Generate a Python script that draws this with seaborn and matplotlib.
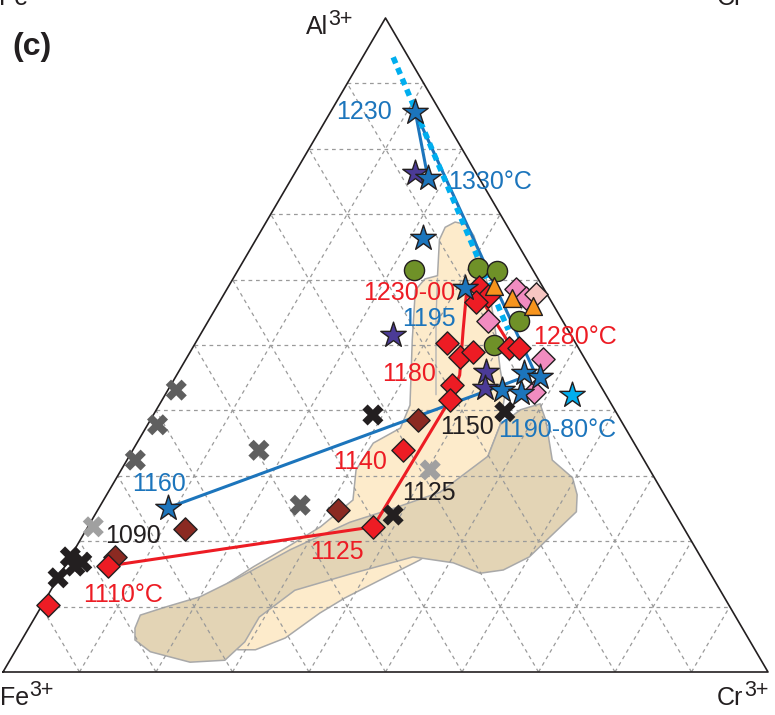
import numpy as np
import pandas as pd
import matplotlib
matplotlib.use("Agg")
import matplotlib.pyplot as plt
from matplotlib.patches import Polygon
import seaborn as sns

# ---------------- data (ternary fractions; Fe = 1 - Al - Cr) ----------------
blue_star_al = [0.856, 0.755, 0.664, 0.587, 0.431, 0.427, 0.457, 0.451, 0.251]
blue_star_cr = [0.111, 0.178, 0.217, 0.310, 0.437, 0.464, 0.452, 0.476, 0.090]
purple_star_al = [0.763, 0.515, 0.459, 0.434]
purple_star_cr = [0.157, 0.252, 0.402, 0.413]
cyan_star_al = [0.424]
cyan_star_cr = [0.532]
olive_al = [0.615, 0.618, 0.613, 0.537, 0.500]
olive_cr = [0.230, 0.312, 0.339, 0.406, 0.392]
orange_al = [0.590, 0.572, 0.560]
orange_cr = [0.347, 0.379, 0.413]
pink_al = [0.586, 0.572, 0.537, 0.479, 0.428]
pink_cr = [0.377, 0.398, 0.366, 0.467, 0.480]
lightpink_al = [0.578]
lightpink_cr = [0.408]
red_al = [0.589, 0.575, 0.566, 0.503, 0.482, 0.489, 0.495, 0.495, 0.439, 0.416,
          0.339, 0.222, 0.162, 0.102]
red_cr = [0.328, 0.347, 0.335, 0.329, 0.357, 0.370, 0.414, 0.427, 0.368, 0.376,
          0.353, 0.373, 0.056, 0.008]
darkred_al = [0.385, 0.248, 0.219, 0.176]
darkred_cr = [0.350, 0.314, 0.129, 0.059]
xdark_al = [0.431, 0.378, 0.324, 0.339, 0.255]
xdark_cr = [0.011, 0.013, 0.011, 0.165, 0.261]
xlight_al = [0.222, 0.309]
xlight_cr = [0.007, 0.404]
xblack_al = [0.393, 0.240, 0.398, 0.176, 0.168, 0.162, 0.144]
xblack_cr = [0.287, 0.390, 0.457, 0.000, 0.019, 0.013, 0.000]

# trends
red_path_al = [0.162, 0.222, 0.416, 0.454, 0.523, 0.575, 0.572, 0.495]
red_path_cr = [0.056, 0.373, 0.376, 0.370, 0.340, 0.318, 0.338, 0.418]
blue_path_al = [0.755, 0.856, 0.457, 0.251]
blue_path_cr = [0.178, 0.111, 0.467, 0.090]
cyan_path_al = [0.940, 0.523]
cyan_path_cr = [0.040, 0.399]

# fields
light_al = [0.688, 0.684, 0.667, 0.627, 0.577, 0.515, 0.462, 0.424, 0.378, 0.330,
            0.278, 0.202, 0.171, 0.141, 0.113, 0.090, 0.052, 0.034, 0.034, 0.072,
            0.113, 0.136, 0.161, 0.191, 0.222, 0.263, 0.309, 0.350, 0.373, 0.408,
            0.508, 0.584, 0.601, 0.606, 0.661, 0.680]
light_cr = [0.247, 0.264, 0.282, 0.313, 0.348, 0.387, 0.419, 0.444, 0.461, 0.469,
            0.472, 0.483, 0.459, 0.423, 0.390, 0.369, 0.343, 0.313, 0.290, 0.254,
            0.230, 0.226, 0.247, 0.276, 0.304, 0.326, 0.307, 0.309, 0.333, 0.328,
            0.281, 0.247, 0.251, 0.265, 0.240, 0.238]
light_inner_al = [0.602, 0.540, 0.424]
light_inner_cr = [0.267, 0.296, 0.354]
dark_al = [0.067, 0.087, 0.099, 0.115, 0.145, 0.187, 0.229, 0.251, 0.275, 0.330,
           0.378, 0.401, 0.410, 0.385, 0.324, 0.297, 0.271, 0.245, 0.202, 0.176,
           0.156, 0.151, 0.167, 0.176, 0.151, 0.125, 0.084, 0.046, 0.018, 0.015,
           0.031, 0.049]
dark_cr = [0.139, 0.136, 0.162, 0.200, 0.237, 0.282, 0.339, 0.387, 0.434, 0.469,
           0.461, 0.476, 0.497, 0.517, 0.556, 0.596, 0.615, 0.627, 0.610, 0.600,
           0.576, 0.548, 0.505, 0.448, 0.382, 0.319, 0.293, 0.293, 0.281, 0.237,
           0.177, 0.148]

labels_text = ["1230", "1330°C", "1230-00", "1195", "1280°C", "1180", "1150",
               "1190-80°C", "1140", "1125", "1125", "1160", "1090", "1110°C"]
labels_color = ["blue", "blue", "red", "blue", "red", "red", "black",
                "blue", "red", "black", "red", "blue", "black", "red"]
vertex_base = ["Al", "Fe", "Cr"]
vertex_sup = ["3+", "3+", "3+"]

# ---------------- style ----------------
sns.set_theme(style="white")
plt.rcParams["font.family"] = ["Liberation Sans", "DejaVu Sans"]

C_BLUE = "#1c75bc"
C_RED = "#ed1c24"
C_BLACK = "#231f20"
C_PURPLE = "#4b3b97"
C_CYAN = "#00aeef"
C_OLIVE = "#6f9128"
C_ORANGE = "#f7941d"
C_PINK = "#f18cc0"
C_LPINK = "#f7c6c2"
C_DRED = "#8b2a22"
C_XDARK = "#5f5f5f"
C_XLIGHT = "#a0a0a0"
TXT = {"blue": C_BLUE, "red": C_RED, "black": C_BLACK}


def tern(al, cr):
    al = np.asarray(al, float)
    cr = np.asarray(cr, float)
    return cr + al / 2.0, al


W, H = 775, 715
fig = plt.figure(figsize=(W / 100, H / 100), dpi=100)
x0, x1, ytop, ybot = 3, 768, 18, 672
ax = fig.add_axes([x0 / W, (H - ybot) / H, (x1 - x0) / W, (ybot - ytop) / H])
ax.set_xlim(0, 1)
ax.set_ylim(0, 1)
ax.axis("off")


def px(x, y):
    return (x - x0) / (x1 - x0), (ybot - y) / (ybot - ytop)


# fields
lx, ly = tern(light_al, light_cr)
ax.add_patch(Polygon(np.c_[lx, ly], closed=True, facecolor="#fdebcb",
                     edgecolor="#a9a9a9", lw=1.1, zorder=1))
ix, iy = tern(light_inner_al, light_inner_cr)
ax.plot(ix, iy, color="#b4b4b4", lw=1.0, zorder=1.1)
dx, dy = tern(dark_al, dark_cr)
ax.add_patch(Polygon(np.c_[dx, dy], closed=True, facecolor="#e3d4b5",
                     edgecolor="#a9a9a9", lw=1.1, zorder=1.2))

# grid
ticks = np.arange(1, 10) / 10.0
for t in ticks:
    for a, c in ((np.array([t, t]), np.array([0, 1 - t])),
                 (np.array([0, 1 - t]), np.array([t, t])),
                 (np.array([0, 1 - t]), np.array([1 - t, 0]))):
        gx, gy = tern(a, c)
        ax.plot(gx, gy, color="#9a9a9a", lw=0.9, ls=(0, (3, 3)), zorder=1.5)

# triangle
tx, ty = tern([0, 0, 1, 0], [0, 1, 0, 0])
ax.plot(tx, ty, color=C_BLACK, lw=1.2, zorder=2, clip_on=False)

# trend lines
cx, cy = tern(cyan_path_al, cyan_path_cr)
ax.plot(cx, cy, color=C_CYAN, lw=4, ls=(0, (1.2, 0.9)), dash_capstyle="butt", zorder=2.2)
bx, by = tern(blue_path_al, blue_path_cr)
ax.plot(bx, by, color=C_BLUE, lw=2.2, zorder=2.1, solid_joinstyle="round")
rx, ry = tern(red_path_al, red_path_cr)
ax.plot(rx, ry, color=C_RED, lw=2.2, zorder=2.1, solid_joinstyle="round")


def scat(al, cr, marker, color, s, edge=True):
    x, y = tern(al, cr)
    df = pd.DataFrame({"x": x, "y": y})
    kw = dict(edgecolor=C_BLACK, linewidth=1.0) if edge else dict(edgecolor="none", linewidth=0)
    sns.scatterplot(data=df, x="x", y="y", marker=marker, color=color, s=s,
                    ax=ax, zorder=3, clip_on=False, legend=False, **kw)


scat(xdark_al, xdark_cr, "X", C_XDARK, 230, edge=False)
scat(xlight_al, xlight_cr, "X", C_XLIGHT, 230, edge=False)
scat(xblack_al, xblack_cr, "X", C_BLACK, 230, edge=False)
scat(olive_al, olive_cr, "o", C_OLIVE, 210)
scat(darkred_al, darkred_cr, "D", C_DRED, 140)
scat(red_al, red_cr, "D", C_RED, 140)
scat(pink_al, pink_cr, "D", C_PINK, 140)
scat(lightpink_al, lightpink_cr, "D", C_LPINK, 140)
scat(orange_al, orange_cr, "^", C_ORANGE, 165)
scat(purple_star_al, purple_star_cr, "*", C_PURPLE, 370)
scat(blue_star_al, blue_star_cr, "*", C_BLUE, 370)
scat(cyan_star_al, cyan_star_cr, "*", C_CYAN, 370)

# temperature labels (positions in pixels of the figure)
label_pos = [(364, 112), (490, 182), (409, 293), (429, 319), (575, 337), (409, 374),
             (467, 427), (557, 430), (360, 462), (429, 493), (337, 552), (159, 484),
             (133, 536), (123, 595)]
for txt, col, (x, y) in zip(labels_text, labels_color, label_pos):
    X, Y = px(x, y)
    ax.text(X, Y, txt, color=TXT[col], fontsize=18, ha="center", va="center",
            zorder=4, clip_on=False)

renderer = fig.canvas.get_renderer()


def sup_label(x, y, base, sup, fs=18, sfs=15.5, rise=9):
    t = fig.text(x / W, 1 - y / H, base, fontsize=fs, color=C_BLACK,
                 ha="left", va="baseline")
    bb = t.get_window_extent(renderer)
    fig.text((bb.x1 + 0.5) / W, 1 - (y - rise) / H, sup, fontsize=sfs,
             color=C_BLACK, ha="left", va="baseline")


# vertex labels
vertex_pos = [(306, 34), (0, 705), (717, 705)]
for b, s_, (x, y) in zip(vertex_base, vertex_sup, vertex_pos):
    sup_label(x, y, b, s_)

# cut-off labels of the panel above (partly outside the picture, as in the source)
sup_label(-1, 5, "Fe", "3+")
sup_label(717, 5, "Cr", "3+")

# panel letter
X, Y = px(32, 47)
ax.text(X, Y, "(c)", fontsize=23, fontweight="bold", color=C_BLACK,
        ha="center", va="center", clip_on=False)

fig.savefig("out.png", dpi=100)
